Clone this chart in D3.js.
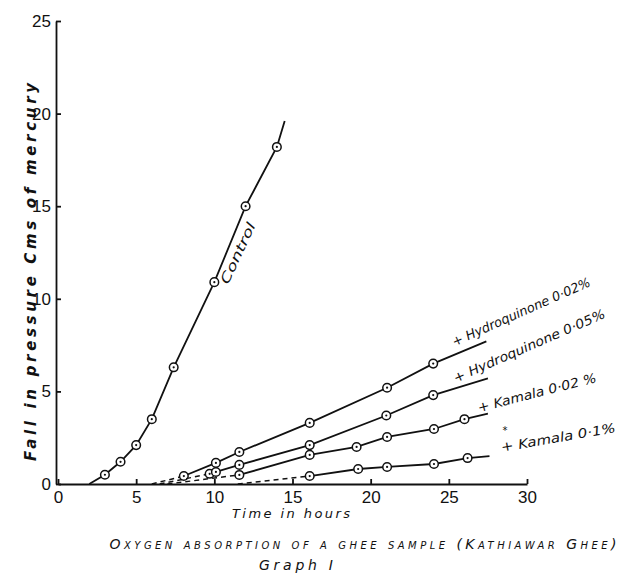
<!DOCTYPE html>
<html>
<head>
<meta charset="utf-8">
<script src="https://cdn.jsdelivr.net/npm/d3@7"></script>
<style>
  body { margin: 0; background: #fff; }
  svg { display: block; }
  .axis path, .axis line { stroke: #111; stroke-width: 1.8; }
  .axis text { font-family: "Liberation Sans", Arial, sans-serif; font-size: 17px; fill: #111; }
  .hand { font-family: "DejaVu Sans", sans-serif; font-style: italic; fill: #111; }
</style>
</head>
<body>
<svg width="623" height="575"></svg>
<script>
// tick values
let xTicks = [0, 5, 10, 15, 20, 25, 30],
    yTicks = [0, 5, 10, 15, 20, 25];

// control
let controlHours = [3, 4, 5, 6, 7.4, 10, 12, 14],
    controlFall = [0.5, 1.2, 2.1, 3.5, 6.3, 10.9, 15, 18.2],
    controlStart = [2, 0],
    controlEnd = [14.5, 19.6];

// + hydroquinone 0.02%
let hq02Hours = [8.05, 10.1, 11.6, 16.1, 21.05, 24],
    hq02Fall = [0.43, 1.14, 1.73, 3.3, 5.2, 6.5],
    hq02Start = [6, 0],
    hq02End = [27.4, 7.7];

// + hydroquinone 0.05%
let hq05Hours = [9.7, 10.1, 11.6, 16.1, 21, 24],
    hq05Fall = [0.55, 0.65, 1.03, 2.1, 3.7, 4.8],
    hq05Start = [6.5, 0],
    hq05End = [27.5, 5.7];

// + kamala 0.02%
let km02Hours = [11.6, 16.1, 19.1, 21.05, 24.05, 26],
    km02Fall = [0.49, 1.57, 2.0, 2.54, 2.97, 3.5],
    km02Start = [7, 0],
    km02End = [27.5, 3.8];

// + kamala 0.1%
let km1Hours = [16.1, 19.2, 21.05, 24.05, 26.2],
    km1Fall = [0.43, 0.81, 0.92, 1.08, 1.4],
    km1Start = [11.5, 0],
    km1End = [27.6, 1.5];

let svg = d3.select("svg");

let x = d3.scaleLinear().domain([0, 30]).range([58, 527]),
    y = d3.scaleLinear().domain([0, 25]).range([484, 21]);

function pairs(hs, vs) {
  return hs.map(function(h, i) { return [h, vs[i]]; });
}

let series = [
  {pts: pairs(controlHours, controlFall), start: controlStart, end: controlEnd, dashed: false},
  {pts: pairs(hq02Hours, hq02Fall), start: hq02Start, end: hq02End, dashed: true},
  {pts: pairs(hq05Hours, hq05Fall), start: hq05Start, end: hq05End, dashed: true},
  {pts: pairs(km02Hours, km02Fall), start: km02Start, end: km02End, dashed: true},
  {pts: pairs(km1Hours, km1Fall), start: km1Start, end: km1End, dashed: true}
];

// axes, ticks point inward
svg.append("g")
    .attr("class", "axis")
    .attr("transform", "translate(0," + y(0) + ")")
    .call(d3.axisBottom(x).tickValues(xTicks).tickFormat(d3.format("d"))
      .tickSizeInner(-5).tickSizeOuter(0).tickPadding(7));

svg.append("g")
    .attr("class", "axis")
    .attr("transform", "translate(" + (x(0) - 2) + ",0)")
    .call(d3.axisLeft(y).tickValues(yTicks).tickFormat(d3.format("d"))
      .tickSizeInner(-5).tickSizeOuter(0).tickPadding(5));

let line = d3.line()
    .x(function(d) { return x(d[0]); })
    .y(function(d) { return y(d[1]); });

series.forEach(function(s) {
  if (s.dashed) {
    svg.append("path")
        .attr("d", line([s.start, s.pts[0]]))
        .attr("fill", "none")
        .attr("stroke", "#111")
        .attr("stroke-width", 1.5)
        .attr("stroke-dasharray", "5,4");
    svg.append("path")
        .attr("d", line(s.pts.concat([s.end])))
        .attr("fill", "none")
        .attr("stroke", "#111")
        .attr("stroke-width", 1.8);
  } else {
    svg.append("path")
        .attr("d", line([s.start].concat(s.pts, [s.end])))
        .attr("fill", "none")
        .attr("stroke", "#111")
        .attr("stroke-width", 1.8);
  }

  let g = svg.append("g").selectAll("g")
      .data(s.pts)
    .enter().append("g")
      .attr("transform", function(d) { return "translate(" + x(d[0]) + "," + y(d[1]) + ")"; });
  g.append("circle").attr("r", 4.3).attr("fill", "#fff").attr("stroke", "#111").attr("stroke-width", 1.5);
  g.append("circle").attr("r", 1.1).attr("fill", "#111");
});

// curve labels
let labels = [
  {text: "Control", x: 242, y: 255, angle: -65, len: 66, size: 13},
  {text: "+ Hydroquinone 0·02%", x: 523, y: 316, angle: -24, len: 150, size: 13},
  {text: "+ Hydroquinone 0·05%", x: 531, y: 350, angle: -23.5, len: 164, size: 13},
  {text: "+ Kamala 0·02 %", x: 538, y: 397, angle: -14.4, len: 122, size: 13},
  {text: "+ Kamala 0·1%", x: 559, y: 442, angle: -9.8, len: 116, size: 13}
];

svg.selectAll(".curve-label")
    .data(labels)
  .enter().append("text")
    .attr("class", "hand curve-label")
    .attr("text-anchor", "middle")
    .attr("font-size", function(d) { return d.size; })
    .attr("textLength", function(d) { return d.len; })
    .attr("lengthAdjust", "spacingAndGlyphs")
    .attr("transform", function(d) { return "translate(" + d.x + "," + d.y + ") rotate(" + d.angle + ")"; })
    .text(function(d) { return d.text; });

svg.append("text")
    .attr("class", "hand")
    .attr("x", 505).attr("y", 434)
    .attr("font-size", 10)
    .attr("text-anchor", "middle")
    .text("*");

// axis titles
svg.append("text")
    .attr("class", "hand")
    .attr("transform", "translate(36,272) rotate(-90)")
    .attr("text-anchor", "middle")
    .attr("font-size", 15)
    .attr("font-weight", "bold")
    .attr("textLength", 378)
    .attr("lengthAdjust", "spacing")
    .text("Fall in pressure Cms of mercury");

svg.append("text")
    .attr("class", "hand")
    .attr("x", 291).attr("y", 518)
    .attr("text-anchor", "middle")
    .attr("font-size", 13)
    .attr("textLength", 118)
    .attr("lengthAdjust", "spacing")
    .text("Time in hours");

svg.append("text")
    .attr("class", "hand")
    .attr("x", 363).attr("y", 549)
    .attr("text-anchor", "middle")
    .attr("font-size", 14)
    .style("font-variant", "small-caps")
    .attr("textLength", 507)
    .attr("lengthAdjust", "spacing")
    .text("Oxygen absorption of a ghee sample (Kathiawar Ghee)");

svg.append("text")
    .attr("class", "hand")
    .attr("x", 296).attr("y", 570)
    .attr("text-anchor", "middle")
    .attr("font-size", 14)
    .attr("textLength", 74)
    .attr("lengthAdjust", "spacing")
    .text("Graph I");
</script>
</body>
</html>
